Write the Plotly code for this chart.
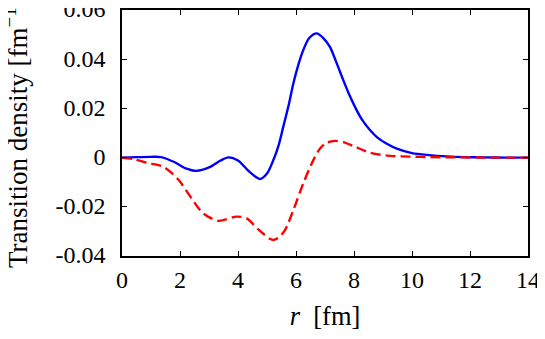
import plotly.graph_objects as go

# Data
r_blue = [0.0, 0.5, 1.0, 1.35, 1.8, 2.2, 2.57, 3.0, 3.4, 3.67, 4.0, 4.4, 4.76,
          5.0, 5.22, 5.4, 5.56, 5.75, 5.91, 6.1, 6.25, 6.45, 6.71, 6.95, 7.17,
          7.4, 7.63, 7.85, 8.09, 8.3, 8.55, 8.8, 9.13, 9.5, 10.0, 10.6, 11.2,
          11.8, 12.5, 13.2, 14.0]
rho_blue = [0.0, 0.0002, 0.0003, 0.0002, -0.0018, -0.0044, -0.0054, -0.0040,
            -0.0012, 0.0001, -0.0012, -0.0058, -0.0087, -0.0065, -0.0010,
            0.0050, 0.0125, 0.0215, 0.0302, 0.0385, 0.0437, 0.0485, 0.0505,
            0.0485, 0.0450, 0.0385, 0.0315, 0.0252, 0.0193, 0.0150, 0.0112,
            0.0082, 0.0056, 0.0035, 0.0018, 0.0010, 0.0005, 0.0002, 0.0001,
            0.0, 0.0]

r_red = [0.0, 0.4, 0.85, 1.42, 1.94, 2.4, 2.8, 3.32, 3.95, 4.3, 4.7, 5.1, 5.22,
         5.4, 5.62, 5.91, 6.25, 6.6, 6.83, 7.05, 7.34, 7.65, 7.98, 8.55, 9.24,
         9.93, 10.6, 11.5, 12.5, 14.0]
rho_red = [0.0, -0.0006, -0.0021, -0.0037, -0.0089, -0.0166, -0.0227, -0.0257,
           -0.0240, -0.0247, -0.0292, -0.0330, -0.0335, -0.0325, -0.0295,
           -0.0213, -0.0105, -0.0010, 0.0037, 0.0060, 0.0068, 0.0062, 0.0047,
           0.0020, 0.0007, 0.0004, 0.0002, 0.0001, 0.0, 0.0]

x_ticks = [0, 2, 4, 6, 8, 10, 12, 14]
x_ticktext = ["0", "2", "4", "6", "8", "10", "12", "14"]
y_ticks = [-0.04, -0.02, 0, 0.02, 0.04, 0.06]
y_ticktext = ["-0.04", "-0.02", "0", "0.02", "0.04", "0.06"]
x_title = "<i>r</i>&nbsp; [fm]"
y_title = "Transition density [fm<sup>−1</sup>]"

FONT = '"Liberation Serif", "DejaVu Serif", "Times New Roman", serif'
FS = 24
FS_TITLE = 26.5

fig = go.Figure()
fig.add_trace(go.Scatter(x=r_blue, y=rho_blue, mode="lines",
                         line=dict(color="#0000ff", width=2.4, shape="spline", smoothing=0.8),
                         showlegend=False))
fig.add_trace(go.Scatter(x=r_red, y=rho_red, mode="lines",
                         line=dict(color="#ff0000", width=2.4, dash="10px,5px",
                                   shape="spline", smoothing=0.8),
                         showlegend=False))

axis_common = dict(showline=True, linecolor="black", linewidth=1.5, mirror="allticks",
                   ticks="inside", ticklen=5, tickwidth=1, tickcolor="black",
                   showgrid=False, zeroline=False, automargin=False,
                   ticklabeloverflow="allow",
                   tickfont=dict(family=FONT, size=FS, color="black"))

fig.update_xaxes(range=[0, 14], tickvals=x_ticks, ticktext=x_ticktext,
                 ticklabelstandoff=1,
                 title=dict(text=x_title,
                            font=dict(family=FONT, size=FS_TITLE, color="black")),
                 **axis_common)
fig.update_yaxes(range=[-0.04, 0.06], tickvals=y_ticks, ticktext=y_ticktext,
                 ticklabelstandoff=10, ticklabelshift=-1,
                 **axis_common)

# y-axis title as a rotated text placed left of the tick labels
fig.add_annotation(text=y_title, textangle=-90, showarrow=False,
                   xref="paper", yref="paper", x=0, y=0.5,
                   xanchor="center", yanchor="middle", xshift=-106,
                   font=dict(family=FONT, size=27, color="black"))

# margins compensate the page's default 8px body offset
fig.update_layout(width=545, height=339,
                  margin=dict(l=114, r=25, t=2, b=91),
                  paper_bgcolor="white", plot_bgcolor="white")

fig.write_html("out.html")
